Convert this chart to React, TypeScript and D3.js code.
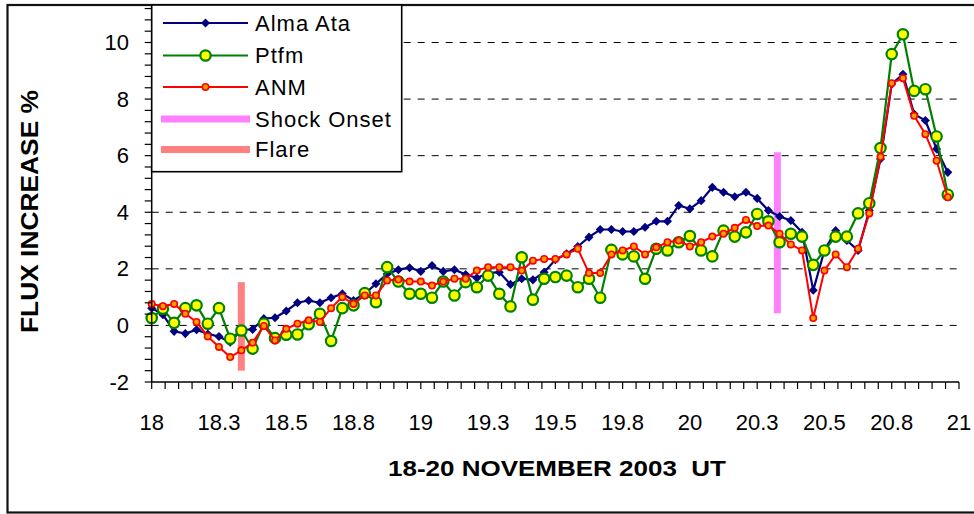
import React from 'react';
import * as d3 from 'd3';

// hourly samples starting at day 18.0 (UT)
const START_DAY = 18;
const HOURS_PER_DAY = 24;

const ALMA_ATA = [
  0.61, 0.38, -0.21, -0.29, -0.15, -0.30, -0.39, -0.59, -0.15, -0.14,
  0.24, 0.27, 0.51, 0.80, 0.88, 0.80, 0.98, 1.12, 0.88, 1.12,
  1.47, 1.82, 1.97, 2.04, 1.91, 2.12, 1.91, 1.97, 1.80, 1.68,
  1.85, 1.88, 1.45, 1.65, 1.61, 1.88, 2.32, 2.53, 2.79, 3.12,
  3.39, 3.39, 3.32, 3.32, 3.47, 3.68, 3.68, 4.24, 4.12, 4.41,
  4.88, 4.71, 4.55, 4.71, 4.49, 4.06, 3.85, 3.71, 3.29, 1.24,
  2.65, 3.35, 3.00, 2.65, 4.06, 5.88, 8.53, 8.88, 7.47, 7.24,
  6.24, 5.41,
];

const PTFM = [
  0.26, 0.59, 0.09, 0.61, 0.71, 0.06, 0.61, -0.47, -0.18, -0.82,
  0.06, -0.45, -0.33, -0.32, 0.04, 0.41, -0.55, 0.61, 0.71, 1.14,
  0.82, 2.06, 1.55, 1.12, 1.12, 0.98, 1.55, 1.06, 1.53, 1.35,
  1.76, 1.12, 0.67, 2.41, 0.91, 1.65, 1.71, 1.76, 1.35, 1.65,
  0.98, 2.67, 2.51, 2.44, 1.65, 2.71, 2.65, 2.94, 3.16, 2.65,
  2.44, 3.35, 3.14, 3.29, 3.94, 3.68, 2.94, 3.24, 3.14, 2.14,
  2.65, 3.14, 3.14, 3.96, 4.32, 6.27, 9.59, 10.29, 8.29, 8.35,
  6.68, 4.62,
];

const ANM = [
  0.76, 0.68, 0.76, 0.41, 0.12, -0.39, -0.76, -1.12, -0.88, -0.61,
  -0.02, -0.53, -0.12, 0.06, 0.18, 0.12, 0.61, 1.00, 0.76, 1.06,
  1.06, 1.59, 1.62, 1.55, 1.55, 1.41, 1.55, 1.65, 1.65, 1.94,
  2.06, 2.06, 2.06, 1.94, 2.29, 2.35, 2.35, 2.51, 2.71, 1.85,
  1.85, 2.51, 2.65, 2.79, 2.51, 2.76, 2.94, 3.00, 2.79, 2.94,
  3.14, 3.24, 3.45, 3.73, 3.51, 3.53, 3.24, 2.86, 2.65, 0.26,
  1.94, 2.51, 2.06, 2.71, 3.96, 5.96, 8.56, 8.74, 7.41, 6.76,
  5.82, 4.53,
];

// vertical marker bars: [day, low, high]
const FLARE = [18.333, -1.6, 1.53];
const SHOCK_ONSET = [20.325, 0.43, 6.12];

const X_TICKS = [18, 18.25, 18.5, 18.75, 19, 19.25, 19.5, 19.75, 20, 20.25, 20.5, 20.75, 21];
const X_TICK_LABELS = ['18', '18.3', '18.5', '18.8', '19', '19.3', '19.5', '19.8', '20', '20.3', '20.5', '20.8', '21'];
const Y_TICKS = [-2, 0, 2, 4, 6, 8, 10];
const Y_TICK_LABELS = ['-2', '0', '2', '4', '6', '8', '10'];
const GRID_VALUES = [0, 2, 4, 6, 8, 10];

const SERIES_NAMES = ['Alma Ata', 'Ptfm', 'ANM', 'Shock Onset', 'Flare'];
const X_TITLE = '18-20 NOVEMBER 2003  UT';
const Y_TITLE = 'FLUX INCREASE %';

const FONT = 'Liberation Sans, Arial, Helvetica, sans-serif';
const NAVY = '#000080';
const GREEN = '#008000';
const RED = '#ff0000';
const YELLOW = '#ffff00';
const ORANGE = '#ffa000';
const MAGENTA = '#ff80ff';
const SALMON = '#ff8080';

export default function App() {
  const W = 974;
  const H = 514;
  const plotLeft = 151.7;
  const plotRight = 959;
  const plotTop = 5;
  const plotBottom = 382;

  const x = d3.scaleLinear().domain([18, 21]).range([plotLeft, plotRight]);
  const y = d3.scaleLinear().domain([-2, 10]).range([plotBottom, 42.5]);
  const tOf = (i: number) => START_DAY + i / HOURS_PER_DAY;

  const line = d3
    .line<number>()
    .x((_, i) => x(tOf(i)))
    .y((d) => y(d));

  const xMinor = d3.range(0, 61).map((k) => 18 + k * 0.05);
  const yTopVal = y.invert(plotTop);
  const yMinor = d3.range(0, 40).map((k) => -2 + k * 0.4).filter((v) => v <= yTopVal + 1e-6);

  const diamond = d3.symbol(d3.symbolSquare, 41)()!;

  const renderBlue = (i: number, cx: number, cy: number) => (
    <path key={i} d={diamond} transform={`translate(${cx},${cy}) rotate(45)`} fill={NAVY} />
  );
  const renderGreen = (i: number, cx: number, cy: number) => (
    <circle key={i} cx={cx} cy={cy} r={5.2} fill={YELLOW} stroke={GREEN} strokeWidth={2.2} />
  );
  const renderRed = (i: number, cx: number, cy: number) => (
    <circle key={i} cx={cx} cy={cy} r={3.2} fill={ORANGE} stroke={RED} strokeWidth={1.6} />
  );

  const legendX0 = 163;
  const legendX1 = 248;
  const legendMid = (legendX0 + legendX1) / 2;
  const legendRowY = [23, 55.5, 87, 119, 149.5];
  const legendTextX = 255;

  return (
    <svg
      width={W}
      height={H}
      style={{ position: 'absolute', left: 0, top: 0, background: '#fff' }}
      fontFamily={FONT}
    >
      <rect x={0} y={0} width={W} height={H} fill="#fff" />
      {/* outer frame */}
      <rect x={7.5} y={5} width={990} height={507.5} fill="none" stroke="#111" strokeWidth={2.2} />

      {/* grid lines */}
      {GRID_VALUES.map((v) => (
        <line
          key={v}
          x1={plotLeft}
          x2={plotRight}
          y1={y(v)}
          y2={y(v)}
          stroke="#000"
          strokeWidth={1}
          strokeDasharray="7,7"
        />
      ))}

      {/* event bars */}
      <line x1={x(FLARE[0])} x2={x(FLARE[0])} y1={y(FLARE[1])} y2={y(FLARE[2])} stroke={SALMON} strokeWidth={7} />
      <line
        x1={x(SHOCK_ONSET[0])}
        x2={x(SHOCK_ONSET[0])}
        y1={y(SHOCK_ONSET[1])}
        y2={y(SHOCK_ONSET[2])}
        stroke={MAGENTA}
        strokeWidth={7}
      />

      {/* series */}
      <path d={line(ALMA_ATA)!} fill="none" stroke={NAVY} strokeWidth={2.2} />
      {ALMA_ATA.map((d, i) => renderBlue(i, x(tOf(i)), y(d)))}
      <path d={line(PTFM)!} fill="none" stroke={GREEN} strokeWidth={2.2} />
      {PTFM.map((d, i) => renderGreen(i, x(tOf(i)), y(d)))}
      <path d={line(ANM)!} fill="none" stroke={RED} strokeWidth={2} />
      {ANM.map((d, i) => renderRed(i, x(tOf(i)), y(d)))}

      {/* axes */}
      <line x1={plotLeft} x2={plotLeft} y1={plotTop} y2={plotBottom} stroke="#000" strokeWidth={1.5} />
      <line x1={plotLeft} x2={plotRight} y1={plotBottom} y2={plotBottom} stroke="#000" strokeWidth={1.5} />
      {yMinor.map((v, i) => (
        <line key={i} x1={plotLeft - 7} x2={plotLeft} y1={y(v)} y2={y(v)} stroke="#000" strokeWidth={1.2} />
      ))}
      {xMinor.map((v, i) => (
        <line key={i} x1={x(v)} x2={x(v)} y1={plotBottom} y2={plotBottom + 7} stroke="#000" strokeWidth={1.2} />
      ))}
      {Y_TICKS.map((v, i) => (
        <text
          key={v}
          x={129}
          y={y(v)}
          textAnchor="end"
          dominantBaseline="central"
          fontSize={22}
          fill="#000"
        >
          {Y_TICK_LABELS[i]}
        </text>
      ))}
      {X_TICKS.map((v, i) => (
        <text key={v} x={x(v)} y={430} textAnchor="middle" fontSize={22} fill="#000">
          {X_TICK_LABELS[i]}
        </text>
      ))}

      {/* axis titles */}
      <text
        x={557}
        y={476}
        textAnchor="middle"
        fontSize={22}
        fontWeight="bold"
        textLength={338}
        lengthAdjust="spacingAndGlyphs"
        fill="#000"
        style={{ whiteSpace: 'pre' }}
      >
        {X_TITLE}
      </text>
      <text
        transform={`translate(38,211.5) rotate(-90)`}
        textAnchor="middle"
        fontSize={24}
        fontWeight="bold"
        textLength={243}
        lengthAdjust="spacingAndGlyphs"
        fill="#000"
      >
        {Y_TITLE}
      </text>

      {/* legend */}
      <rect x={plotLeft} y={5} width={250} height={166.7} fill="#fff" stroke="#000" strokeWidth={1.6} />
      <line x1={legendX0} x2={legendX1} y1={legendRowY[0]} y2={legendRowY[0]} stroke={NAVY} strokeWidth={2.2} />
      {renderBlue(0, legendMid, legendRowY[0])}
      <line x1={legendX0} x2={legendX1} y1={legendRowY[1]} y2={legendRowY[1]} stroke={GREEN} strokeWidth={2.2} />
      {renderGreen(1, legendMid, legendRowY[1])}
      <line x1={legendX0} x2={legendX1} y1={legendRowY[2]} y2={legendRowY[2]} stroke={RED} strokeWidth={2} />
      {renderRed(2, legendMid, legendRowY[2])}
      <line x1={161} x2={250} y1={legendRowY[3]} y2={legendRowY[3]} stroke={MAGENTA} strokeWidth={7} />
      <line x1={161} x2={250} y1={legendRowY[4]} y2={legendRowY[4]} stroke={SALMON} strokeWidth={7} />
      {SERIES_NAMES.map((name, i) => (
        <text
          key={name}
          x={legendTextX}
          y={legendRowY[i] + 7.5}
          fontSize={22}
          letterSpacing={1}
          fill="#000"
        >
          {name}
        </text>
      ))}
    </svg>
  );
}
